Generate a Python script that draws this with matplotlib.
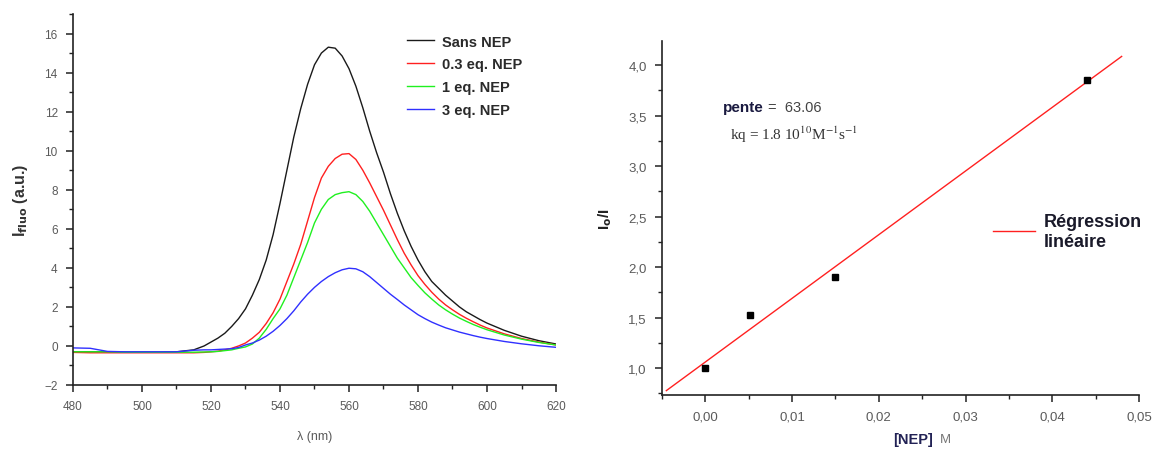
import numpy as np
import matplotlib
matplotlib.use("Agg")
import matplotlib.pyplot as plt
from matplotlib.ticker import MultipleLocator, FuncFormatter

# ---------------- data: emission spectra ----------------
wl = [480, 485, 490, 495, 500, 505, 510, 515, 518, 520, 522, 524, 526, 528, 530,
      532, 534, 536, 538, 540, 542, 544, 546, 548, 550, 552, 554, 556, 558, 560,
      562, 564, 566, 568, 570, 572, 574, 576, 578, 580, 582, 584, 586, 588, 590,
      592, 594, 596, 598, 600, 605, 610, 615, 620]
sans_nep = [-0.30, -0.30, -0.30, -0.32, -0.32, -0.32, -0.30, -0.20, 0.00, 0.20, 0.40, 0.65, 1.00, 1.40, 1.90,
            2.60, 3.40, 4.40, 5.70, 7.30, 9.00, 10.70, 12.15, 13.40, 14.40, 15.00, 15.30, 15.25, 14.85, 14.20,
            13.30, 12.20, 11.00, 9.90, 8.90, 7.80, 6.80, 5.90, 5.10, 4.40, 3.80, 3.30, 2.95, 2.60, 2.30,
            2.00, 1.75, 1.55, 1.35, 1.17, 0.80, 0.50, 0.27, 0.10]
nep_03 = [-0.33, -0.35, -0.35, -0.35, -0.35, -0.35, -0.35, -0.35, -0.33, -0.30, -0.27, -0.20, -0.12, 0.00, 0.15,
          0.40, 0.70, 1.15, 1.70, 2.40, 3.30, 4.20, 5.20, 6.40, 7.60, 8.60, 9.20, 9.60, 9.82, 9.85,
          9.55, 9.00, 8.35, 7.65, 6.95, 6.20, 5.45, 4.75, 4.15, 3.60, 3.15, 2.75, 2.40, 2.10, 1.85,
          1.62, 1.42, 1.24, 1.07, 0.92, 0.62, 0.38, 0.20, 0.05]
nep_1 = [-0.30, -0.30, -0.30, -0.32, -0.32, -0.32, -0.32, -0.32, -0.31, -0.30, -0.28, -0.24, -0.20, -0.12, -0.05,
         0.10, 0.40, 0.85, 1.40, 1.90, 2.60, 3.50, 4.40, 5.30, 6.30, 7.00, 7.50, 7.75, 7.85, 7.90,
         7.75, 7.40, 6.90, 6.30, 5.70, 5.10, 4.50, 4.00, 3.50, 3.10, 2.72, 2.40, 2.10, 1.85, 1.63,
         1.43, 1.26, 1.10, 0.96, 0.83, 0.56, 0.35, 0.18, 0.05]
nep_3 = [-0.10, -0.12, -0.28, -0.30, -0.30, -0.30, -0.30, -0.22, -0.20, -0.20, -0.18, -0.16, -0.14, -0.08, 0.05,
         0.15, 0.30, 0.50, 0.75, 1.05, 1.40, 1.80, 2.25, 2.65, 3.00, 3.30, 3.55, 3.75, 3.90, 3.98,
         3.95, 3.80, 3.55, 3.25, 2.95, 2.65, 2.38, 2.10, 1.85, 1.60, 1.40, 1.22, 1.07, 0.93, 0.82,
         0.71, 0.62, 0.53, 0.45, 0.38, 0.23, 0.11, 0.01, -0.07]
series_labels = ["Sans NEP", "0.3 eq. NEP", "1 eq. NEP", "3 eq. NEP"]
series_colors = ["#1a1a1a", "#ff2020", "#20f020", "#3030ff"]

# ---------------- data: Stern-Volmer ----------------
nep_conc = [0.0, 0.0052, 0.0149, 0.0440]
i0_over_i = [1.00, 1.53, 1.90, 3.85]
fit_range = [-0.0045, 0.0480]

fig = plt.figure(figsize=(11.52, 4.52), dpi=100)
plt.rcParams['font.family'] = ['Liberation Sans', 'DejaVu Sans']
tick_gray = "#5a5a5a"

# ================= left panel =================
ax1 = fig.add_axes([73/1152, 1-386/452, (556-73)/1152, (386-15)/452])
for y, lab, col in zip([sans_nep, nep_03, nep_1, nep_3], series_labels, series_colors):
    ax1.plot(wl, y, color=col, lw=1.0, label=lab)
ax1.set_xlim(480, 620)
ax1.set_ylim(-2, 17)
ax1.xaxis.set_major_locator(MultipleLocator(20))
ax1.xaxis.set_minor_locator(MultipleLocator(10))
ax1.yaxis.set_minor_locator(MultipleLocator(1))
ax1.set_yticks([-2, 0, 2, 4, 6, 8, 10, 12, 14, 16])
for s in ["top", "right"]:
    ax1.spines[s].set_visible(False)
for s in ["left", "bottom"]:
    ax1.spines[s].set_linewidth(1.2)
    ax1.spines[s].set_color("#222222")
ax1.tick_params(which="major", direction="out", length=5, width=1.1, colors="#222222",
                labelcolor=tick_gray, labelsize=8.5, pad=6)
ax1.tick_params(which="minor", direction="out", length=3, width=1.0, colors="#222222")
ax1.set_xlabel("λ (nm)", color=tick_gray, fontsize=9, labelpad=13)
ax1.set_ylabel(r"I$_{\mathbf{fluo}}$ (a.u.)", color="#333333", fontsize=11.5,
               fontweight="bold", labelpad=10)
leg1 = ax1.legend(loc="upper left", bbox_to_anchor=(0.665, 0.98), frameon=False,
                  handlelength=1.85, handletextpad=0.5, labelspacing=0.6,
                  prop={"weight": "bold", "size": 10.5})
for t in leg1.get_texts():
    t.set_color("#2a2a2a")

# ================= right panel =================
ax2 = fig.add_axes([662/1152, 1-396/452, (1139-662)/1152, (396-42)/452])
slope, intercept = np.polyfit(nep_conc, i0_over_i, 1)
xf = np.array(fit_range)
ax2.plot(xf, slope*xf + intercept, color="#ff2020", lw=1.0, label="Régression\nlinéaire")
ax2.plot(nep_conc, i0_over_i, 's', color="black", markersize=5.0, zorder=3)
ax2.set_xlim(-0.005, 0.05)
ax2.set_ylim(0.733, 4.238)
ax2.xaxis.set_major_locator(MultipleLocator(0.01))
ax2.xaxis.set_minor_locator(MultipleLocator(0.005))
ax2.yaxis.set_major_locator(MultipleLocator(0.5))
ax2.yaxis.set_minor_locator(MultipleLocator(0.25))
ax2.xaxis.set_major_formatter(FuncFormatter(lambda v, p: f"{v:.2f}".replace(".", ",")))
ax2.yaxis.set_major_formatter(FuncFormatter(lambda v, p: f"{v:.1f}".replace(".", ",")))
for s in ["top", "right"]:
    ax2.spines[s].set_visible(False)
for s in ["left", "bottom"]:
    ax2.spines[s].set_linewidth(1.2)
    ax2.spines[s].set_color("#222222")
ax2.tick_params(which="major", direction="out", length=5, width=1.1, colors="#222222",
                labelcolor=tick_gray, labelsize=9.5, pad=6)
ax2.tick_params(which="minor", direction="out", length=3, width=1.0, colors="#222222")
fig.text(893/1152, 1-440/452, "[NEP]", fontsize=10.5, fontweight="bold", color="#222255",
         ha="left", va="center")
fig.text(940/1152, 1-440/452, "M", fontsize=9.5, color="#777777", ha="left", va="center")
ax2.set_ylabel(r"I$_\mathbf{o}$/I", fontsize=11, fontweight="bold", color="#222222", labelpad=10)
fig.text(723/1152, 1-108/452, "pente", fontsize=11, fontweight="bold", color="#1a1a40",
         va="center", ha="left")
fig.text(768/1152, 1-108/452, "=  63.06", fontsize=10.5, color="#444444", va="center", ha="left")
fig.text(730/1152, 1-135/452, r"kq = 1.8 10$^{10}$M$^{-1}$s$^{-1}$",
         fontsize=11, family="Liberation Serif", color="#333333", va="center", ha="left",
         math_fontfamily="stix")
leg2 = ax2.legend(loc="upper left", bbox_to_anchor=(0.66, 0.56), frameon=False,
                  handlelength=2.3, handletextpad=0.5, prop={"weight": "bold", "size": 13})
for t in leg2.get_texts():
    t.set_color("#1a1a2a")

fig.savefig("out.png", dpi=100)
